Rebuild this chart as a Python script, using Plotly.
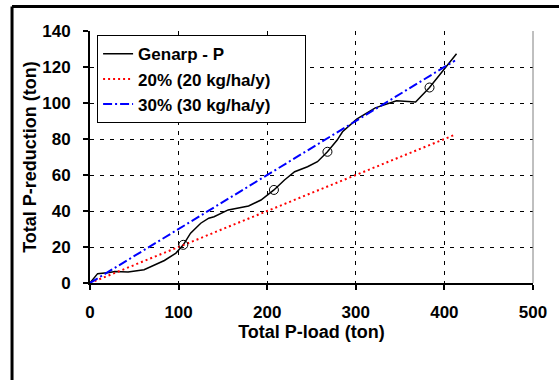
import plotly.graph_objects as go

# Data
load = [0, 8.6, 22, 28, 43, 61, 84, 97, 105.3, 113.5, 125, 134, 140, 156, 179, 193,
        207.6, 219.5, 231, 245.5, 256.7, 268, 279, 285, 301, 322, 346, 367.5, 383.2, 402, 413.7]
reduction = [0, 5.2, 5.8, 6.4, 6.1, 7.4, 12.5, 16.6, 21.2, 27.7, 33.2, 36, 36.8, 40.6, 42.8, 46.1,
             51.7, 57.2, 61.8, 64.6, 67.4, 72.9, 79.4, 84, 91, 97.3, 101.2, 100.6, 108.6, 120, 127.4]
mark_load = [105.3, 207.6, 268, 383.2]
mark_red = [21.2, 51.7, 72.9, 108.6]
ref_load = [0, 412]
ref_20 = [0, 82.4]
ref_30 = [0, 123.6]

x_ticks = [0, 100, 200, 300, 400, 500]
y_ticks = [0, 20, 40, 60, 80, 100, 120, 140]

FONT = "Liberation Sans, Arial, sans-serif"
PAD = "<span style='color:rgba(0,0,0,0)'>___</span>"

fig = go.Figure()
fig.add_trace(go.Scatter(x=load, y=reduction, mode="lines", name="<b>Genarp - P</b>",
                         line=dict(color="black", width=1.5)))
fig.add_trace(go.Scatter(x=ref_load, y=ref_20, mode="lines", name="<b>20% (20 kg/ha/y)</b>" + PAD,
                         line=dict(color="#ff0000", width=2, dash="2px,3px")))
fig.add_trace(go.Scatter(x=ref_load, y=ref_30, mode="lines", name="<b>30% (30 kg/ha/y)</b>" + PAD,
                         line=dict(color="#0000ff", width=2, dash="9px,3px,2px,3px")))
fig.add_trace(go.Scatter(x=mark_load, y=mark_red, mode="markers", showlegend=False,
                         marker=dict(symbol="circle-open", size=9, color="black",
                                     line=dict(width=1, color="black"))))

axis_common = dict(
    showline=True, linecolor="black", linewidth=2,
    ticks="outside", ticklen=5, tickwidth=1.5, tickcolor="black",
    showgrid=True, gridcolor="black", gridwidth=1, griddash="4px,6px",
    zeroline=False,
    tickfont=dict(family=FONT, size=17, color="black", weight="bold"),
)

fig.update_xaxes(range=[0, 500], tickvals=x_ticks, ticklabelstandoff=8,
                 title=dict(text="<b>Total P-load (ton)</b>",
                            font=dict(family=FONT, size=18, color="black"), standoff=2),
                 **axis_common)
fig.update_yaxes(range=[0, 140], tickvals=y_ticks, ticklabelstandoff=9,
                 title=dict(text="<b>Total P-reduction (ton)</b>",
                            font=dict(family=FONT, size=18, color="black"), standoff=1),
                 **axis_common)

fig.update_layout(
    width=559, height=380,
    margin=dict(l=90, r=21, t=31, b=97),
    paper_bgcolor="white", plot_bgcolor="white",
    font=dict(family=FONT, color="black"),
    legend=dict(x=0.016, y=0.983, xanchor="left", yanchor="top",
                bgcolor="white", bordercolor="black", borderwidth=1,
                font=dict(family=FONT, size=17, color="black")),
    shapes=[
        dict(type="line", xref="paper", yref="paper", x0=1, x1=1, y0=0, y1=1,
             line=dict(color="#808080", width=1)),
        # outer frame (top and left edges; the rest lies outside the picture)
        dict(type="line", xref="paper", yref="paper", x0=-0.176, x1=1.2, y0=1.097, y1=1.097,
             line=dict(color="black", width=3), layer="below"),
        dict(type="line", xref="paper", yref="paper", x0=-0.176, x1=-0.176, y0=-0.5, y1=1.097,
             line=dict(color="black", width=3), layer="below"),
    ],
)

fig.write_html("out.html")
